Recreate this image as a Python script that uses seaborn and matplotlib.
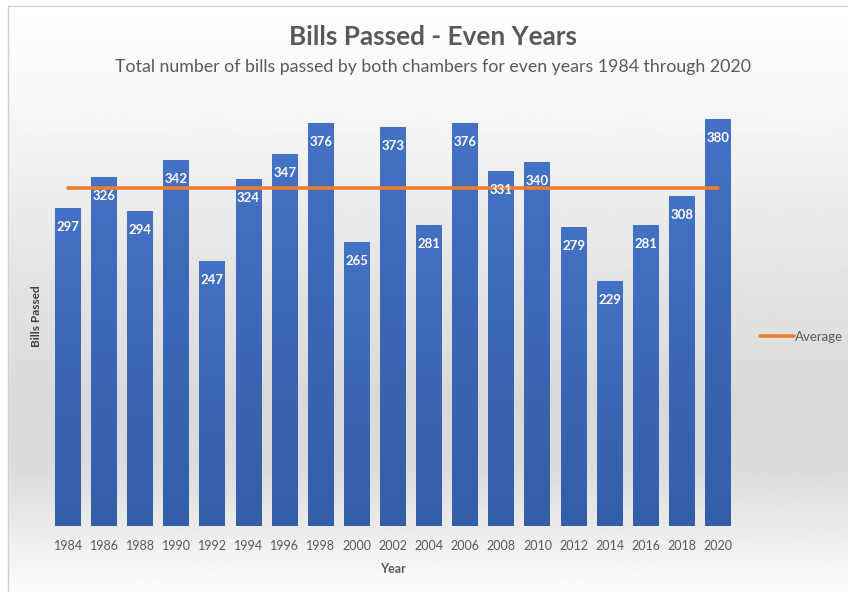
import numpy as np
import pandas as pd
import matplotlib
matplotlib.use("Agg")
import matplotlib.pyplot as plt
from matplotlib.colors import LinearSegmentedColormap
from matplotlib.lines import Line2D
from matplotlib.patches import Rectangle
import seaborn as sns

years = ["1984", "1986", "1988", "1990", "1992", "1994", "1996", "1998", "2000", "2002",
         "2004", "2006", "2008", "2010", "2012", "2014", "2016", "2018", "2020"]
bills = [297, 326, 294, 342, 247, 324, 347, 376, 265, 373,
         281, 376, 331, 340, 279, 229, 281, 308, 380]
average_label = "Average"
title = "Bills Passed - Even Years"
subtitle = "Total number of bills passed by both chambers for even years 1984 through 2020"

df = pd.DataFrame({"Year": years, "Bills": bills})
avg = float(np.mean(bills))

sns.set_theme(style="white")
plt.rcParams["font.family"] = ["Lato", "DejaVu Sans"]

W, H = 848, 592
fig = plt.figure(figsize=(W / 100, H / 100), dpi=100)
fig.patch.set_facecolor("white")

# background gradient (figure level)
bg = fig.add_axes([0, 0, 1, 1], zorder=-10)
bg.set_axis_off()
stops_y = [0, 90, 250, 400, 470, 530, 592]
stops_c = [1.0, 0.975, 0.905, 0.85, 0.86, 0.925, 0.99]
yy = np.arange(H)
vals = np.interp(yy, stops_y, stops_c)
img = np.repeat(vals[:, None], 4, axis=1)
bg.imshow(img, cmap="gray", vmin=0, vmax=1, aspect="auto",
          extent=[0, W, H, 0], interpolation="bilinear")
bg.add_patch(Rectangle((0, 0), W, 6, color="white", zorder=2))
bg.add_patch(Rectangle((0, 0), 8, H, color="white", zorder=2))
bg.plot([8, 8], [6, H], color="#d0d0d0", lw=1, zorder=3)
bg.plot([8, W], [6, 6], color="#d0d0d0", lw=1, zorder=3)
bg.set_xlim(0, W)
bg.set_ylim(H, 0)

# main axes
left, right = 50, 736
base, top = 526, 97.6
ax = fig.add_axes([left / W, (H - base) / H, (right - left) / W, (base - top) / H])
ax.patch.set_alpha(0)

sns.barplot(data=df, x="Year", y="Bills", color="#4472C4", width=0.72,
            saturation=1, ax=ax, zorder=2)

# gradient fill on bars
cmap = LinearSegmentedColormap.from_list("bar", ["#335fa9", "#3a66b5", "#4472C4"])
grad = np.linspace(0, 1, 256)[:, None]
for p in ax.patches:
    x0, y0 = p.get_x(), p.get_y()
    w, h = p.get_width(), p.get_height()
    im = ax.imshow(grad, cmap=cmap, aspect="auto", origin="lower",
                   extent=[x0, x0 + w, y0, y0 + h], zorder=2.5)
    im.set_clip_path(p)
    p.set_edgecolor("none")

ax.set_xlim(-0.5, len(years) - 0.5)
ax.set_ylim(0, 400)

# data labels
for i, v in enumerate(bills):
    ax.annotate(str(v), (i, v), xytext=(0, -19 * 0.72), textcoords="offset points",
                ha="center", va="center", color="white", fontsize=9.5,
                fontweight="bold", zorder=5)

# average line
sns.lineplot(x=np.arange(len(years)), y=[avg] * len(years), color="#ED7D31",
             lw=2.6, ax=ax, zorder=4)

for s in ax.spines.values():
    s.set_visible(False)
ax.set_yticks([])
ax.tick_params(axis="x", length=0, pad=10, labelsize=9, labelcolor="#595959")
ax.set_xlabel("Year", fontsize=9, fontweight="bold", color="#595959", labelpad=8)
ax.set_ylabel("Bills Passed", fontsize=8.5, fontweight="bold", color="#404040")
ax.yaxis.set_label_coords(-0.011, 0.49)

handle = Line2D([0], [0], color="#ED7D31", lw=2.6)
fig.legend([handle], [average_label], loc="center left",
           bbox_to_anchor=(760 / W, (H - 337) / H), frameon=False,
           fontsize=9.5, handlelength=2.55, handletextpad=0.12,
           labelcolor="#595959", borderaxespad=0, borderpad=0)

fig.text(433 / W, 1 - 37 / H, title, ha="center", va="center",
         fontsize=18.8, fontweight="bold", color="#595959")
fig.text(433 / W, 1 - 67 / H, subtitle, ha="center", va="center",
         fontsize=12.8, color="#595959")

fig.savefig("out.png", dpi=100)
